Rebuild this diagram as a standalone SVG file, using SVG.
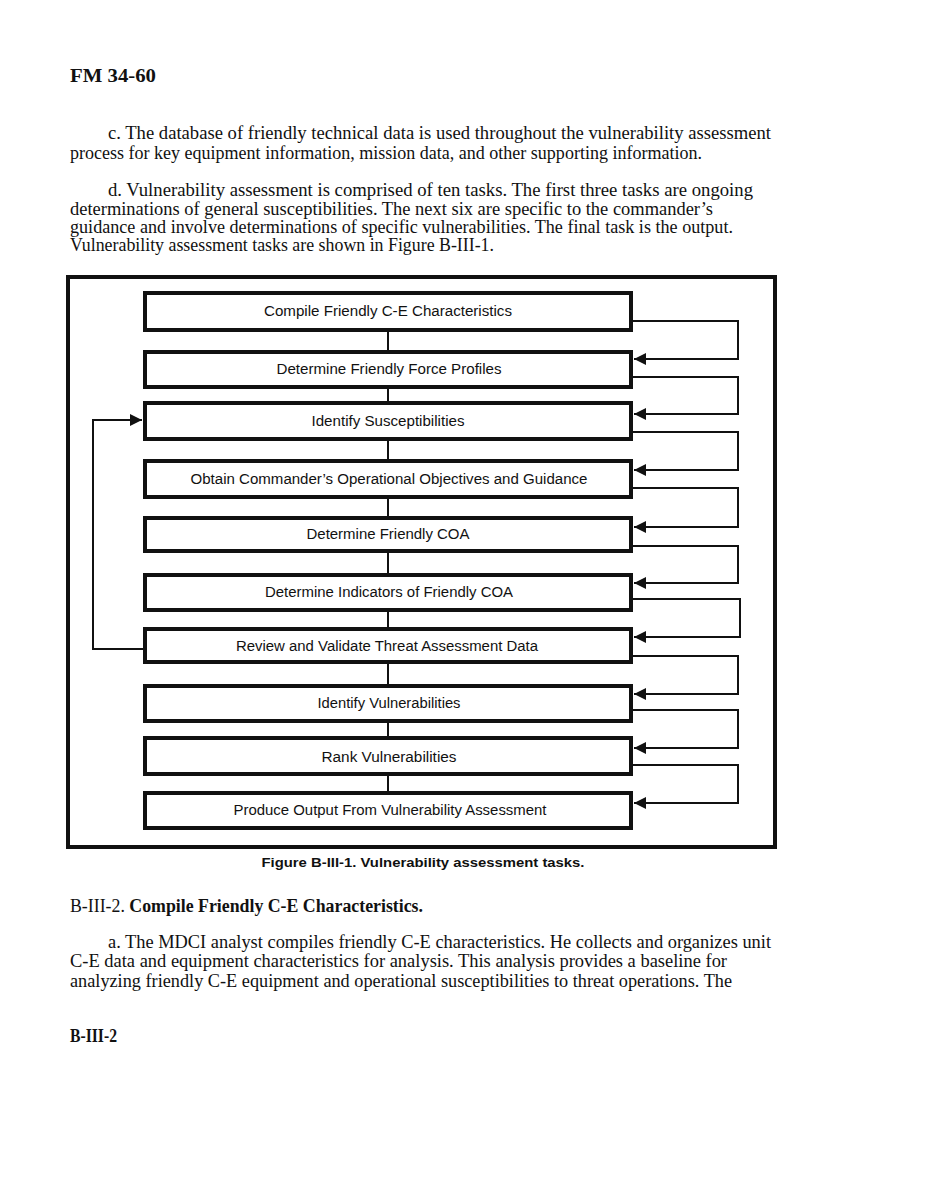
<svg xmlns="http://www.w3.org/2000/svg" width="932" height="1198" viewBox="0 0 932 1198">
<style>
.body{font-family:"Liberation Serif","Times New Roman",serif;font-size:18px;fill:#111}
.bold{font-weight:bold}
.lbl{font-family:"Liberation Sans",Arial,sans-serif;font-size:14px;fill:#111;text-anchor:middle}
.cap{font-family:"Liberation Sans",Arial,sans-serif;font-size:13.5px;font-weight:bold;fill:#111;text-anchor:middle}
.box{fill:#fff;stroke:#111;stroke-width:4}
.ln{fill:none;stroke:#111;stroke-width:2}
</style>
<defs>
<marker id="ah" markerWidth="12" markerHeight="12" refX="12" refY="6" orient="auto" markerUnits="userSpaceOnUse">
<path d="M0,0 L12,6 L0,12 Z" fill="#111"/>
</marker>
</defs>
<rect width="932" height="1198" fill="#fff"/>

<g id="page-text">
<text class="body bold" x="70" y="82" textLength="86" lengthAdjust="spacingAndGlyphs">FM  34-60</text>
<text class="body" x="108" y="139" textLength="663" lengthAdjust="spacingAndGlyphs">c. The database of friendly technical data is used throughout the vulnerability assessment</text>
<text class="body" x="70" y="159" textLength="632" lengthAdjust="spacingAndGlyphs">process for key equipment information, mission data, and other supporting information.</text>
<text class="body" x="108" y="196" textLength="645" lengthAdjust="spacingAndGlyphs">d. Vulnerability assessment is comprised of ten tasks. The first three tasks are ongoing</text>
<text class="body" x="70" y="214.5" textLength="643" lengthAdjust="spacingAndGlyphs">determinations of general susceptibilities. The next six are specific to the commander’s</text>
<text class="body" x="70" y="233" textLength="663" lengthAdjust="spacingAndGlyphs">guidance and involve determinations of specific vulnerabilities. The final task is the output.</text>
<text class="body" x="70" y="251" textLength="424" lengthAdjust="spacingAndGlyphs">Vulnerability assessment tasks are shown in Figure B-III-1.</text>

<text class="body" x="70" y="912" textLength="353" lengthAdjust="spacingAndGlyphs">B-III-2. <tspan class="bold">Compile Friendly C-E Characteristics.</tspan></text>
<text class="body" x="108" y="948" textLength="663" lengthAdjust="spacingAndGlyphs">a. The MDCI analyst compiles friendly C-E characteristics. He collects and organizes unit</text>
<text class="body" x="70" y="967" textLength="657" lengthAdjust="spacingAndGlyphs">C-E data and equipment characteristics for analysis. This analysis provides a baseline for</text>
<text class="body" x="70" y="987" textLength="662" lengthAdjust="spacingAndGlyphs">analyzing friendly C-E equipment and operational susceptibilities to threat operations. The</text>
<text class="body bold" x="70" y="1042" textLength="47" lengthAdjust="spacingAndGlyphs">B-III-2</text>
</g>

<g id="frame">
<rect x="68" y="277" width="707" height="570" fill="none" stroke="#111" stroke-width="4"/>
</g>

<g id="connectors">
<path class="ln" d="M388,332 V350 M388,389 V401 M388,441 V459 M388,499 V516 M388,553 V573 M388,612 V627 M388,664 V684 M388,723 V736 M388,776 V791"/>
<path class="ln" d="M633,321 H738 V359 H634" marker-end="url(#ah)"/>
<path class="ln" d="M633,377 H738 V414 H634" marker-end="url(#ah)"/>
<path class="ln" d="M633,432 H738 V470 H634" marker-end="url(#ah)"/>
<path class="ln" d="M633,488 H738 V527 H634" marker-end="url(#ah)"/>
<path class="ln" d="M633,546 H738 V583 H634" marker-end="url(#ah)"/>
<path class="ln" d="M633,599 H740 V637 H634" marker-end="url(#ah)"/>
<path class="ln" d="M633,656 H738 V694 H634" marker-end="url(#ah)"/>
<path class="ln" d="M633,710 H738 V748 H634" marker-end="url(#ah)"/>
<path class="ln" d="M633,765 H738 V803 H634" marker-end="url(#ah)"/>
<path class="ln" d="M143,649 H93 V420 H142" marker-end="url(#ah)"/>
</g>

<g id="n1"><rect class="box" x="145" y="293" width="486" height="37"/><text class="lbl" x="388" y="316" textLength="248" lengthAdjust="spacingAndGlyphs">Compile Friendly C-E Characteristics</text></g>
<g id="n2"><rect class="box" x="145" y="352" width="486" height="35"/><text class="lbl" x="389" y="374" textLength="225" lengthAdjust="spacingAndGlyphs">Determine Friendly Force Profiles</text></g>
<g id="n3"><rect class="box" x="145" y="403" width="486" height="36"/><text class="lbl" x="388" y="426" textLength="153" lengthAdjust="spacingAndGlyphs">Identify Susceptibilities</text></g>
<g id="n4"><rect class="box" x="145" y="461" width="486" height="36"/><text class="lbl" x="389" y="484" textLength="397" lengthAdjust="spacingAndGlyphs">Obtain Commander’s Operational Objectives and Guidance</text></g>
<g id="n5"><rect class="box" x="145" y="518" width="486" height="33"/><text class="lbl" x="388" y="539" textLength="163" lengthAdjust="spacingAndGlyphs">Determine Friendly COA</text></g>
<g id="n6"><rect class="box" x="145" y="575" width="486" height="35"/><text class="lbl" x="389" y="597" textLength="248" lengthAdjust="spacingAndGlyphs">Determine Indicators of Friendly COA</text></g>
<g id="n7"><rect class="box" x="145" y="629" width="486" height="33"/><text class="lbl" x="387" y="651" textLength="302" lengthAdjust="spacingAndGlyphs">Review and Validate Threat Assessment Data</text></g>
<g id="n8"><rect class="box" x="145" y="686" width="486" height="35"/><text class="lbl" x="389" y="708" textLength="143" lengthAdjust="spacingAndGlyphs">Identify Vulnerabilities</text></g>
<g id="n9"><rect class="box" x="145" y="738" width="486" height="36"/><text class="lbl" x="389" y="762" textLength="135" lengthAdjust="spacingAndGlyphs">Rank Vulnerabilities</text></g>
<g id="n10"><rect class="box" x="145" y="793" width="486" height="35"/><text class="lbl" x="390" y="815" textLength="313" lengthAdjust="spacingAndGlyphs">Produce Output From Vulnerability Assessment</text></g>

<g id="caption">
<text class="cap" x="423" y="867" textLength="323" lengthAdjust="spacingAndGlyphs">Figure B-III-1. Vulnerability assessment tasks.</text>
</g>
</svg>
